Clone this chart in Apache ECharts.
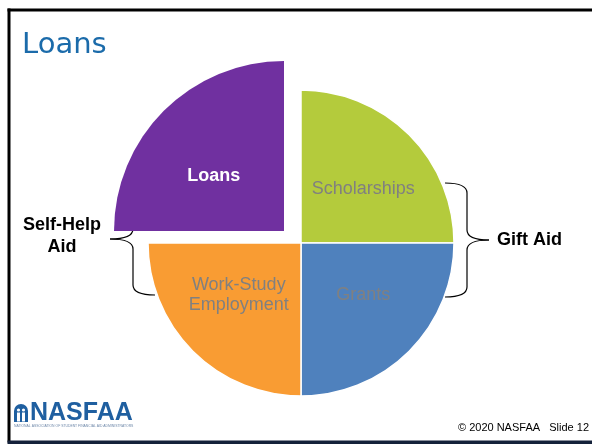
<!DOCTYPE html>
<html>
<head>
<meta charset="utf-8">
<script src="https://cdn.jsdelivr.net/npm/echarts@6/dist/echarts.min.js"></script>
<style>
html,body{margin:0;padding:0;background:#fff;}
#chart{width:592px;height:444px;}
</style>
</head>
<body>
<div id="chart"></div>
<script>
// Data
var categories = ['Scholarships', 'Grants', 'Work-Study\nEmployment', 'Loans'];
var values = [25, 25, 25, 25];
var sliceColors = ['#B4CB3C', '#4F81BD', '#F99C33', '#7030A0'];
var groupLabels = ['Self-Help\nAid', 'Gift Aid'];
var titleText = 'Loans';
var footerText = '\u00A9 2020 NASFAA   Slide 12';

var chart = echarts.init(document.getElementById('chart'), null, {renderer: 'canvas'});

var labelOffsets = [[6, 2], [6, -4], [-6, -4], [-8, 7]];

var baseData = categories.map(function (c, i) {
  var isLoans = c === 'Loans';
  return {
    name: c,
    value: values[i],
    itemStyle: {color: isLoans ? 'rgba(0,0,0,0)' : sliceColors[i], borderColor: isLoans ? 'rgba(0,0,0,0)' : '#fff'},
    label: {show: !isLoans, offset: labelOffsets[i]}
  };
});
var loansData = categories.map(function (c, i) {
  var isLoans = c === 'Loans';
  return {
    name: c,
    value: values[i],
    itemStyle: {color: isLoans ? sliceColors[i] : 'rgba(0,0,0,0)', borderWidth: 0},
    label: {show: isLoans, offset: labelOffsets[i], color: '#fff', fontWeight: 'bold'}
  };
});

function seg(x1, y1, x2, y2) {
  return {type: 'line', shape: {x1: x1, y1: y1, x2: x2, y2: y2}, style: {stroke: '#000', lineWidth: 1.2}};
}
function curve(x1, y1, cx, cy, x2, y2) {
  return {type: 'bezierCurve', shape: {x1: x1, y1: y1, cpx1: cx, cpy1: cy, x2: x2, y2: y2}, style: {stroke: '#000', lineWidth: 1.2, fill: 'none'}};
}
function brace(xEnd, xBar, xTip, yTop, yMid, yBot) {
  return [
    curve(xEnd, yTop, xBar, yTop, xBar, yTop + 10),
    seg(xBar, yTop + 10, xBar, yMid - 10),
    curve(xBar, yMid - 10, xBar, yMid, xTip, yMid),
    curve(xTip, yMid, xBar, yMid, xBar, yMid + 10),
    seg(xBar, yMid + 10, xBar, yBot - 10),
    curve(xBar, yBot - 10, xBar, yBot, xEnd, yBot)
  ];
}

var graphics = [
  {type: 'rect', shape: {x: 7.5, y: 8.5, width: 3, height: 434}, style: {fill: '#000'}},
  {type: 'rect', shape: {x: 7.5, y: 8.5, width: 600, height: 3}, style: {fill: '#000'}},
  {type: 'rect', shape: {x: 7.5, y: 440.5, width: 600, height: 4}, style: {fill: '#14213a'}},
  {type: 'text', x: 22, y: 45, style: {text: titleText, fill: '#1B6BAA', verticalAlign: 'middle',
    font: '29px "DejaVu Sans", Verdana, sans-serif'}},
  {type: 'text', x: 62, y: 236, style: {text: groupLabels[0], fill: '#000', align: 'center', verticalAlign: 'middle',
    font: 'bold 18px "Liberation Sans", Arial, sans-serif', lineHeight: 22}},
  {type: 'text', x: 497, y: 240, style: {text: groupLabels[1], fill: '#000', align: 'left', verticalAlign: 'middle',
    font: 'bold 18px "Liberation Sans", Arial, sans-serif'}},
  {type: 'text', x: 589, y: 428, style: {text: footerText, fill: '#000', align: 'right', verticalAlign: 'middle',
    font: '11px "Liberation Sans", Arial, sans-serif'}},
  {type: 'rect', shape: {x: 14, y: 404, width: 14, height: 18, r: [7, 7, 0, 0]}, style: {fill: '#1F5FA0'}},
  {type: 'circle', shape: {cx: 18.5, cy: 410, r: 1.6}, style: {fill: '#fff'}},
  {type: 'circle', shape: {cx: 23.5, cy: 410, r: 1.6}, style: {fill: '#fff'}},
  {type: 'rect', shape: {x: 17, y: 412.5, width: 3, height: 9}, style: {fill: '#fff'}},
  {type: 'rect', shape: {x: 22, y: 412.5, width: 3, height: 9}, style: {fill: '#fff'}},
  {type: 'text', x: 30, y: 413, style: {text: 'NASFAA', fill: '#1F5FA0', verticalAlign: 'middle',
    font: 'bold 25px "Liberation Sans Narrow", "Arial Narrow", sans-serif'}},
  {type: 'text', x: 14, y: 426, style: {text: 'NATIONAL ASSOCIATION OF STUDENT FINANCIAL AID ADMINISTRATORS', fill: '#6d87a8',
    verticalAlign: 'middle', font: '3.4px "Liberation Sans", Arial, sans-serif'}}
].concat(brace(445, 467, 489, 183, 240, 297)).concat(brace(155, 133, 110, 183, 239, 295));

var option = {
  backgroundColor: '#fff',
  animation: false,
  series: [
    {
      type: 'pie',
      center: [301, 243],
      radius: [0, 153],
      startAngle: 90,
      clockwise: true,
      silent: true,
      itemStyle: {borderColor: '#fff', borderWidth: 1.5},
      label: {
        show: true, position: 'inside', color: '#808080',
        fontFamily: 'Liberation Sans, Arial, sans-serif', fontSize: 18, lineHeight: 20
      },
      labelLine: {show: false},
      data: baseData
    },
    {
      type: 'pie',
      center: [284, 231],
      radius: [0, 170],
      startAngle: 90,
      clockwise: true,
      silent: true,
      label: {
        show: true, position: 'inside', color: '#fff',
        fontFamily: 'Liberation Sans, Arial, sans-serif', fontSize: 18
      },
      labelLine: {show: false},
      data: loansData
    }
  ],
  graphic: graphics
};
chart.setOption(option);
</script>
</body>
</html>
